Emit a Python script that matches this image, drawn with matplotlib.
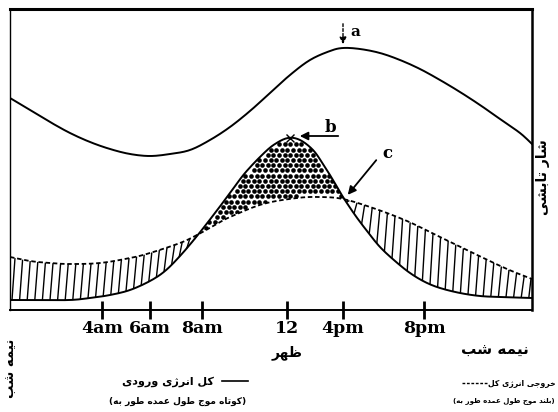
import unicodedata as ud
import numpy as np
import matplotlib
matplotlib.use("Agg")
import matplotlib.pyplot as plt
from matplotlib.collections import LineCollection
from matplotlib.patches import Polygon

# time axis (arbitrary position units along the day) and tick labels
tick_pos = [92, 140, 192, 277, 333, 414]
tick_labels = ["4am", "6am", "8am", "12", "4pm", "8pm"]

# upper curve (a)
temp_x = [0, 20, 40, 60, 80, 100, 120, 140, 160, 180, 200, 220, 240, 260, 280,
          300, 320, 333, 350, 370, 390, 410, 430, 450, 470, 490, 510, 522]
temp_y = [212, 200, 188, 177, 168, 161, 156, 154, 156, 160, 170, 183, 199, 217, 235,
          250, 259, 262, 261, 257, 250, 241, 230, 218, 205, 191, 177, 166]

# incoming energy (solid bell)
in_x = [0, 30, 60, 80, 100, 120, 140, 155, 170, 187, 205, 220, 235, 253, 265, 278,
        290, 303, 313, 323, 333, 345, 357, 370, 385, 400, 415, 430, 450, 470, 490, 522]
in_y = [10, 10, 10, 12, 15, 20, 29, 39, 54, 74, 97, 117, 137, 156, 166, 172,
        170, 160, 146, 130, 113, 95, 79, 63, 49, 37, 28, 22, 17, 14, 13, 12]

# outgoing energy (dashed)
out_x = [0, 20, 40, 60, 90, 120, 140, 170, 187, 205, 220, 253, 287, 310, 333, 363,
         397, 430, 463, 497, 522]
out_y = [53, 49, 47, 46, 47, 52, 57, 67, 75, 85, 93, 106, 112, 113, 111, 102,
         89, 73, 57, 41, 31]

W, H = 558, 412
FA = ["DejaVu Sans"]


def _form(ch, kind):
    try:
        return ud.lookup(ud.name(ch) + " " + kind + " FORM")
    except (KeyError, ValueError):
        return None


def _is_ar(ch):
    return _form(ch, "ISOLATED") is not None or _form(ch, "FINAL") is not None


def _joins_next(ch):
    return _is_ar(ch) and _form(ch, "INITIAL") is not None


def shape_word(w):
    out = []
    for i, ch in enumerate(w):
        if not _is_ar(ch):
            out.append(ch)
            continue
        p = i > 0 and _joins_next(w[i - 1])
        n = i + 1 < len(w) and _is_ar(w[i + 1]) and _joins_next(ch)
        kind = "MEDIAL" if p and n else "FINAL" if p else "INITIAL" if n else "ISOLATED"
        out.append(_form(ch, kind) or ch)
    return "".join(reversed(out))


def fa(text, rtl=True):
    words = [shape_word(w) for w in text.split(" ")]
    if rtl:
        words = words[::-1]
    return " ".join(words)


def smooth(xs, ys, n=10):
    p = np.column_stack([xs, ys]).astype(float)
    p = np.vstack([p[0], p, p[-1]])
    t = np.linspace(0, 1, n, endpoint=False)[:, None]
    segs = []
    for i in range(1, len(p) - 2):
        p0, p1, p2, p3 = p[i - 1], p[i], p[i + 1], p[i + 2]
        segs.append(0.5 * (2 * p1 + (-p0 + p2) * t + (2 * p0 - 5 * p1 + 4 * p2 - p3) * t ** 2
                           + (-p0 + 3 * p1 - 3 * p2 + p3) * t ** 3))
    segs.append(p[-2][None])
    s = np.vstack(segs)
    return s[:, 0], s[:, 1]


def ftext(x, y, s, **kw):
    # place text by pixel position on the figure
    fig.text(x / W, 1 - y / H, s, **kw)


fig = plt.figure(figsize=(W / 100, H / 100), dpi=100)
ax = fig.add_axes([10 / W, (H - 310) / H, 522 / W, 301 / H])
ax.set_xlim(0, 522)
ax.set_ylim(0, 301)

tx, ty = smooth(temp_x, temp_y)
ix, iy = smooth(in_x, in_y)
ox, oy = smooth(out_x, out_y)

grid = np.linspace(0, 522, 1045)
gin = np.interp(grid, ix, iy)
gout = np.interp(grid, ox, oy)

ax.plot(tx, ty, color="black", lw=1.4)
ax.plot(ix, iy, color="black", lw=1.4)
ax.plot(ox, oy, color="black", lw=1.3, dashes=(2.5, 1.5))

# hatched regions: outgoing above incoming
segs = []
slant = 3.0
for x0 in np.arange(2, 520, 7.6):
    lo = np.interp(x0, grid, gin)
    x1 = min(x0 + slant, 521)
    hi = np.interp(x1, grid, gout)
    if hi > lo + 1.5 and np.interp(x0, grid, gout) > lo:
        segs.append([(x0, lo), (x1, hi)])
ax.add_collection(LineCollection(segs, colors="black", linewidths=1.0))

# stippled region: incoming above outgoing
mask = gin > gout
poly = Polygon(np.vstack([np.column_stack([grid[mask], gin[mask]]),
                          np.column_stack([grid[mask][::-1], gout[mask][::-1]])]),
               closed=True, facecolor="none", edgecolor="none")
ax.add_patch(poly)
dx, dy = [], []
for k, yy in enumerate(np.arange(72, 176, 5.2)):
    off = 2.8 if k % 2 else 0.0
    for xx in np.arange(185 + off, 336, 5.6):
        if np.interp(xx, grid, gout) + 1.5 < yy < np.interp(xx, grid, gin) - 1.5:
            dx.append(xx)
            dy.append(yy)
dots = ax.scatter(dx, dy, s=11, color="black", linewidths=0)
dots.set_clip_path(poly)

# peak marker of the incoming curve
k_peak = int(np.argmax(gin))
ax.plot(grid[k_peak], gin[k_peak], marker="x", color="black", ms=6, mew=1.0)

# annotations a, b, c
ax.annotate("", xy=(333, 263), xytext=(333, 289),
            arrowprops=dict(arrowstyle="-|>", color="black", lw=1.0, ls=(0, (2, 1.5)),
                            mutation_scale=10), annotation_clip=False)
ax.text(340, 274, "a", fontsize=11, fontweight="bold", family="DejaVu Serif")
ax.annotate("", xy=(287, 174), xytext=(331, 174),
            arrowprops=dict(arrowstyle="-|>", color="black", lw=1.3, mutation_scale=12))
ax.text(315, 178, "b", fontsize=12, fontweight="bold", family="DejaVu Serif")
ax.annotate("", xy=(336, 113), xytext=(368, 152),
            arrowprops=dict(arrowstyle="-|>", color="black", lw=1.3, mutation_scale=12))
ax.text(372, 152, "c", fontsize=12, fontweight="bold", family="DejaVu Serif")

for side, lw in [("top", 2.2), ("right", 1.8), ("left", 1.0), ("bottom", 1.4)]:
    ax.spines[side].set_linewidth(lw)
ax.set_yticks([])
ax.set_xticks(tick_pos, tick_labels)
ax.tick_params(axis="x", direction="inout", length=13, width=2, pad=1, labelsize=12.5)
for lab in ax.get_xticklabels():
    lab.set_family("DejaVu Serif")
    lab.set_fontweight("bold")

# Persian labels
ftext(543, 177, fa("شار تابشی"), family=FA, fontsize=10, fontweight="bold",
      rotation=90, ha="center", va="center")
ftext(287, 353, fa("ظهر"), family=FA, fontsize=10, fontweight="bold", ha="center", va="center")
ftext(495, 350, fa("نیمه شب"), family=FA, fontsize=11, fontweight="bold", ha="center", va="center")
ftext(11, 368, fa("نیمه شب"), family=FA, fontsize=9.5, fontweight="bold",
      rotation=90, ha="center", va="center")

ftext(214, 382, fa("کل انرژی ورودی"), family=FA, fontsize=8, fontweight="bold",
      ha="right", va="center")
fig.add_artist(plt.Line2D([222 / W, 248 / W], [1 - 381 / H, 1 - 381 / H], color="black", lw=1.2))
ftext(178, 401, "(" + fa("به طور عمده طول موج کوتاه", rtl=False) + ")", family=FA,
      fontsize=6.5, fontweight="bold", ha="center", va="center")

fig.add_artist(plt.Line2D([462 / W, 487 / W], [1 - 383 / H, 1 - 383 / H], color="black",
                          lw=1.0, dashes=(2, 1.2)))
ftext(488, 383, fa("کل انرژی خروجی", rtl=False), family=FA, fontsize=5.6, fontweight="bold",
      ha="left", va="center")
ftext(504, 401, "(" + fa("به طور عمده طول موج بلند", rtl=False) + ")", family=FA,
      fontsize=5.0, fontweight="bold", ha="center", va="center")

fig.savefig("out.png", dpi=100)
